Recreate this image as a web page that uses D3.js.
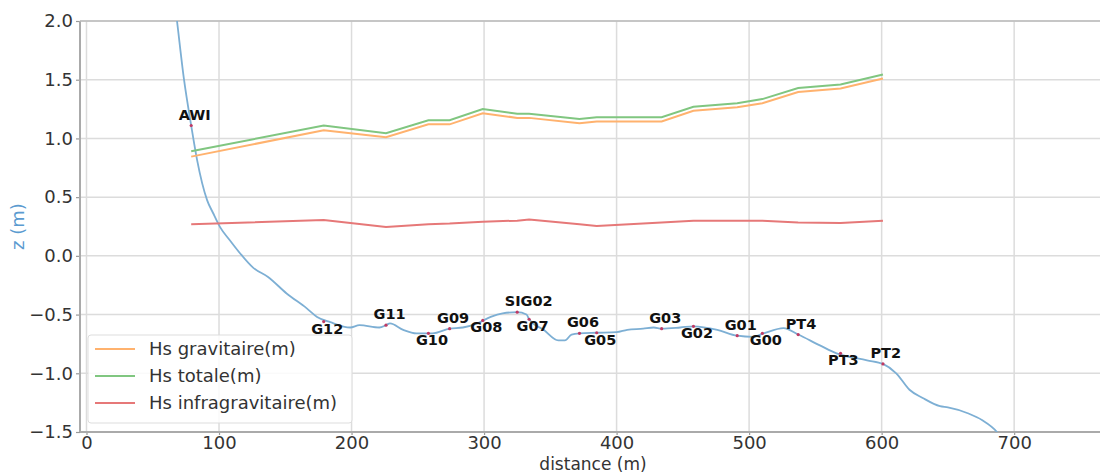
<!DOCTYPE html>
<html>
<head>
<meta charset="utf-8">
<script src="https://cdn.jsdelivr.net/npm/d3@7"></script>
<style>
  body { margin: 0; background: #fff; }
  svg text { font-family: "DejaVu Sans", sans-serif; }
</style>
</head>
<body>
<div id="vis"></div>
<script>
// data
const STATIONS = ["AWI", "G12", "G11", "G10", "G09", "G08", "SIG02", "G07", "G06", "G05",
  "G03", "G02", "G01", "G00", "PT4", "PT3", "PT2"];
const STATION_DIST = [79, 179, 226, 258, 274, 299, 325, 334, 372, 385, 434, 458, 491, 510, 537, 569, 601];
const STATION_Z = [1.11, -0.56, -0.59, -0.66, -0.62, -0.55, -0.48, -0.54, -0.66, -0.655,
  -0.62, -0.60, -0.68, -0.66, -0.67, -0.83, -0.92];

const HS_GRAV = [0.845, 1.07, 1.01, 1.12, 1.12, 1.215, 1.175, 1.175, 1.13, 1.145,
  1.145, 1.235, 1.265, 1.30, 1.395, 1.425, 1.51];
const HS_TOT = [0.89, 1.11, 1.045, 1.155, 1.155, 1.25, 1.21, 1.21, 1.165, 1.18,
  1.18, 1.27, 1.30, 1.335, 1.43, 1.46, 1.545];
const HS_IG = [0.27, 0.305, 0.245, 0.27, 0.275, 0.29, 0.30, 0.31, 0.27, 0.255,
  0.285, 0.30, 0.30, 0.30, 0.285, 0.28, 0.30];

const PROFILE_DIST = [64, 68.3, 73.6, 79, 83.4, 91, 95.5, 100.8, 108, 116, 125.7, 137, 151, 166, 174,
  184, 199, 206, 221, 226, 229, 239, 249, 261, 274, 284, 295, 305, 314, 325, 332, 334, 345, 356,
  361, 366, 372, 385, 400, 408, 420, 428, 434, 448, 458, 476, 491, 503, 511, 526, 537, 553, 566,
  589, 601, 611, 621, 631, 644, 650, 665, 676, 687, 692];
const PROFILE_Z = [2.4, 2.0, 1.5, 1.11, 0.82, 0.475, 0.365, 0.245, 0.135, 0.02, -0.10, -0.18, -0.32,
  -0.445, -0.52, -0.565, -0.61, -0.59, -0.61, -0.59, -0.575, -0.63, -0.66, -0.66, -0.62, -0.61,
  -0.575, -0.52, -0.49, -0.48, -0.50, -0.54, -0.63, -0.72, -0.72, -0.67, -0.66, -0.655, -0.65,
  -0.63, -0.62, -0.61, -0.62, -0.61, -0.60, -0.63, -0.68, -0.69, -0.66, -0.615, -0.67, -0.76,
  -0.83, -0.89, -0.92, -1.0, -1.14, -1.21, -1.28, -1.29, -1.34, -1.40, -1.50, -1.58];

const X_TICKS = [0, 100, 200, 300, 400, 500, 600, 700];
const Y_TICKS = [-1.5, -1.0, -0.5, 0.0, 0.5, 1.0, 1.5, 2.0];
const LEGEND_LABELS = ["Hs gravitaire(m)", "Hs totale(m)", "Hs infragravitaire(m)"];

const FRAME_WIDTH = 1100;
const FRAME_HEIGHT = 473;
const PLOT = { left: 80, right: 1106, top: 21, bottom: 432 };

const COLORS = {
  grav: "rgb(255,178,110)",
  tot: "rgb(128,198,128)",
  ig: "rgb(230,120,120)",
  prof: "rgb(125,175,212)"
};

const FRAME = d3.select("#vis")
  .append("svg")
  .attr("width", FRAME_WIDTH)
  .attr("height", FRAME_HEIGHT);

// scales
const X_SCALE = d3.scaleLinear()
  .domain([-4.9, 769.3])
  .range([PLOT.left, PLOT.right]);

const Y_SCALE = d3.scaleLinear()
  .domain([-1.5, 2.0])
  .range([PLOT.bottom, PLOT.top]);

FRAME.append("clipPath").attr("id", "clip")
  .append("rect")
  .attr("x", PLOT.left).attr("y", PLOT.top)
  .attr("width", PLOT.right - PLOT.left).attr("height", PLOT.bottom - PLOT.top);

// grid
FRAME.append("g").selectAll("line")
  .data(X_TICKS).enter().append("line")
  .attr("x1", (d) => X_SCALE(d)).attr("x2", (d) => X_SCALE(d))
  .attr("y1", PLOT.top).attr("y2", PLOT.bottom)
  .attr("stroke", "#dcdcdc").attr("stroke-width", 1.5);

FRAME.append("g").selectAll("line")
  .data(Y_TICKS).enter().append("line")
  .attr("x1", PLOT.left).attr("x2", PLOT.right)
  .attr("y1", (d) => Y_SCALE(d)).attr("y2", (d) => Y_SCALE(d))
  .attr("stroke", "#dcdcdc").attr("stroke-width", 1.5);

// axes
const X_AXIS = d3.axisBottom(X_SCALE).tickValues(X_TICKS).tickSize(3).tickPadding(1);
const Y_AXIS = d3.axisLeft(Y_SCALE).tickValues(Y_TICKS).tickFormat(d3.format(".1f")).tickSize(4).tickPadding(3);

const gx = FRAME.append("g")
  .attr("transform", `translate(0, ${PLOT.bottom})`)
  .call(X_AXIS);
const gy = FRAME.append("g")
  .attr("transform", `translate(${PLOT.left}, 0)`)
  .call(Y_AXIS);

[gx, gy].forEach((g) => {
  g.select(".domain").remove();
  g.selectAll(".tick line").attr("stroke", "#999").attr("stroke-width", 1.2);
  g.selectAll(".tick text").attr("fill", "#333").style("font-size", "18px");
});

// spines
FRAME.append("line")
  .attr("x1", PLOT.left).attr("x2", PLOT.left).attr("y1", PLOT.top).attr("y2", PLOT.bottom)
  .attr("stroke", "#aaa").attr("stroke-width", 2);
FRAME.append("line")
  .attr("x1", PLOT.left).attr("x2", PLOT.right).attr("y1", PLOT.bottom).attr("y2", PLOT.bottom)
  .attr("stroke", "#aaa").attr("stroke-width", 2);
FRAME.append("line")
  .attr("x1", PLOT.left).attr("x2", PLOT.right).attr("y1", PLOT.top).attr("y2", PLOT.top)
  .attr("stroke", "#bbb").attr("stroke-width", 1.5);

// lines
const PLOT_G = FRAME.append("g").attr("clip-path", "url(#clip)");

const LINE = d3.line()
  .x((d) => X_SCALE(d[0]))
  .y((d) => Y_SCALE(d[1]));

PLOT_G.append("path")
  .datum(PROFILE_DIST.map((d, i) => [d, PROFILE_Z[i]]))
  .attr("d", LINE.curve(d3.curveMonotoneX))
  .attr("fill", "none").attr("stroke", COLORS.prof).attr("stroke-width", 1.8);

LINE.curve(d3.curveLinear);

const SERIES = [
  { values: HS_GRAV, color: COLORS.grav },
  { values: HS_TOT, color: COLORS.tot },
  { values: HS_IG, color: COLORS.ig }
];

PLOT_G.selectAll(".hs")
  .data(SERIES).enter().append("path")
  .attr("class", "hs")
  .attr("d", (s) => LINE(STATION_DIST.map((d, i) => [d, s.values[i]])))
  .attr("fill", "none")
  .attr("stroke", (s) => s.color)
  .attr("stroke-width", 2);

// stations
PLOT_G.selectAll(".dot")
  .data(STATIONS).enter().append("circle")
  .attr("cx", (d, i) => X_SCALE(STATION_DIST[i]))
  .attr("cy", (d, i) => Y_SCALE(STATION_Z[i]))
  .attr("r", 1.6)
  .attr("fill", "#c03a64");

FRAME.selectAll(".slabel")
  .data(STATIONS).enter().append("text")
  .attr("x", (d, i) => X_SCALE(STATION_DIST[i]) - 12.5)
  .attr("y", (d, i) => Y_SCALE(STATION_Z[i]) + (i % 2 === 0 ? -6 : 12))
  .style("font-size", "14.5px")
  .style("font-weight", "bold")
  .attr("fill", "#111")
  .text((d) => d);

// legend
const LEGEND = FRAME.append("g").attr("transform", "translate(88, 335)");

LEGEND.append("rect")
  .attr("width", 264).attr("height", 88)
  .attr("rx", 3)
  .attr("fill", "#fff").attr("fill-opacity", 0.85)
  .attr("stroke", "#ddd");

LEGEND_LABELS.forEach((lab, i) => {
  const y = 14 + i * 27;
  LEGEND.append("line")
    .attr("x1", 7).attr("x2", 47).attr("y1", y).attr("y2", y)
    .attr("stroke", SERIES[i].color).attr("stroke-width", 2);
  LEGEND.append("text")
    .attr("x", 61).attr("y", y + 6)
    .style("font-size", "18px")
    .attr("fill", "#333")
    .text(lab);
});

// axis labels
FRAME.append("text")
  .attr("x", (PLOT.left + PLOT.right) / 2)
  .attr("y", 470)
  .attr("text-anchor", "middle")
  .style("font-size", "17px")
  .attr("fill", "#333")
  .text("distance (m)");

FRAME.append("text")
  .attr("transform", `translate(24, ${(PLOT.top + PLOT.bottom) / 2}) rotate(-90)`)
  .attr("text-anchor", "middle")
  .style("font-size", "18px")
  .attr("fill", "#5b9bd0")
  .text("z (m)");
</script>
</body>
</html>
